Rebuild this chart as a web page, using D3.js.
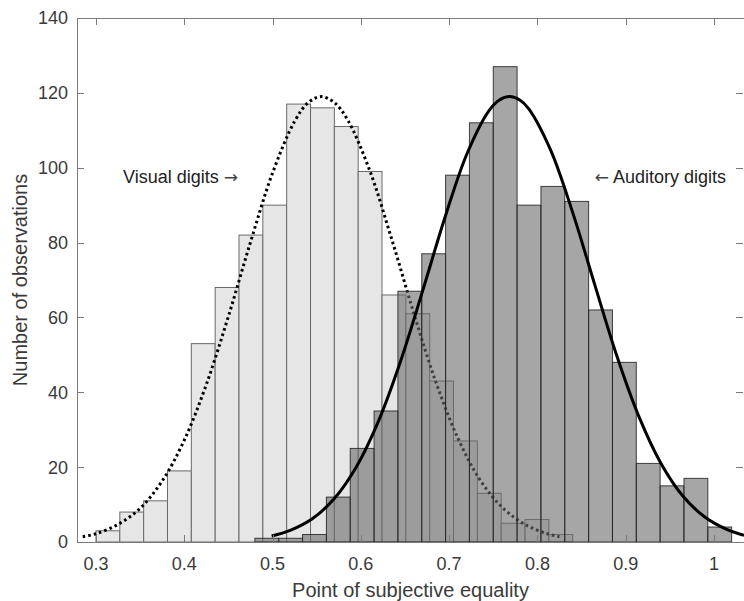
<!DOCTYPE html>
<html>
<head>
<meta charset="utf-8">
<script src="https://cdn.jsdelivr.net/npm/d3@7"></script>
<style>
  html, body { margin: 0; padding: 0; background: #fff; }
  svg { display: block; }
  text { font-family: "Liberation Sans", Arial, Helvetica, sans-serif; }
</style>
</head>
<body>
<svg id="chart" width="744" height="601"></svg>
<script>
// ---- data ----
const visualEdges = [0.300, 0.327, 0.354, 0.381, 0.408, 0.435, 0.462, 0.489, 0.516, 0.543, 0.570,
                     0.597, 0.624, 0.651, 0.678, 0.705, 0.732, 0.759, 0.786, 0.813, 0.840];
const visualCounts = [3, 8, 11, 19, 53, 68, 82, 90, 117, 116, 111, 99, 66, 61, 43, 27, 13, 5, 6, 2];

const auditoryEdges = [0.480, 0.507, 0.534, 0.561, 0.588, 0.615, 0.642, 0.669, 0.696, 0.723, 0.750,
                       0.777, 0.804, 0.831, 0.858, 0.885, 0.912, 0.939, 0.966, 0.993, 1.020];
const auditoryCounts = [1, 1, 2, 12, 25, 35, 67, 77, 98, 112, 127, 90, 95, 91, 62, 48, 21, 15, 17, 4];

// fitted curves
const visualFitX = [0.285, 0.300, 0.325, 0.350, 0.375, 0.400, 0.425, 0.450, 0.475, 0.500, 0.525, 0.540,
                    0.555, 0.570, 0.585, 0.610, 0.635, 0.660, 0.685, 0.710, 0.735, 0.760, 0.785, 0.810, 0.825];
const visualFitY = [1.4, 2.2, 4.7, 9.0, 16.3, 27.2, 42.1, 60.3, 80.1, 98.6, 112.4, 117.3,
                    119.0, 117.4, 112.8, 99.3, 80.9, 61.1, 42.7, 27.7, 16.6, 9.3, 4.8, 2.3, 1.4];

const auditoryFitX = [0.499, 0.520, 0.545, 0.570, 0.595, 0.620, 0.645, 0.670, 0.695, 0.720, 0.745, 0.757,
                      0.7685, 0.780, 0.790, 0.815, 0.840, 0.865, 0.890, 0.915, 0.940, 0.965, 0.990, 1.015, 1.034];
const auditoryFitY = [1.6, 3.1, 6.2, 11.6, 20.1, 32.3, 48.3, 67.1, 86.5, 103.6, 115.2, 118.1,
                      119.0, 118.1, 115.8, 104.7, 88.0, 68.7, 49.7, 33.5, 21.0, 12.2, 6.6, 3.3, 1.8];

const xTicks = [0.3, 0.4, 0.5, 0.6, 0.7, 0.8, 0.9, 1.0];
const xTickLabels = ["0.3", "0.4", "0.5", "0.6", "0.7", "0.8", "0.9", "1"];
const yTicks = [0, 20, 40, 60, 80, 100, 120, 140];

const xLabel = "Point of subjective equality";
const yLabel = "Number of observations";
const visualNote = "Visual digits";
const auditoryNote = "Auditory digits";
const rightArrow = "\u2192";
const leftArrow = "\u2190";

// ---- layout ----
const L = 77, R = 744, T = 18, B = 542;
const svg = d3.select("#chart");

const x = d3.scaleLinear().domain([0.2785, 1.034]).range([L, R]);
const y = d3.scaleLinear().domain([0, 140]).range([B, T]);

const axisColor = "#7a7a7a";
const textColor = "#3a3a3a";

// clip to plot area
svg.append("defs").append("clipPath").attr("id", "plotclip")
  .append("rect").attr("x", L).attr("y", T - 2).attr("width", R - L).attr("height", B - T + 2);

const plot = svg.append("g").attr("clip-path", "url(#plotclip)");

function binData(edges, counts) {
  return counts.map((c, i) => ({ x0: edges[i], x1: edges[i + 1], n: c }));
}

// visual histogram (light)
plot.append("g").selectAll("rect")
  .data(binData(visualEdges, visualCounts))
  .join("rect")
  .attr("x", d => x(d.x0))
  .attr("y", d => y(d.n))
  .attr("width", d => x(d.x1) - x(d.x0))
  .attr("height", d => y(0) - y(d.n))
  .attr("fill", "#e6e6e6")
  .attr("stroke", "#6a6a6a")
  .attr("stroke-width", 1);

const line = d3.line().x(d => x(d[0])).y(d => y(d[1])).curve(d3.curveCatmullRom.alpha(0.5));

// visual fit (dotted)
plot.append("path")
  .datum(visualFitX.map((v, i) => [v, visualFitY[i]]))
  .attr("d", line)
  .attr("fill", "none")
  .attr("stroke", "#000")
  .attr("stroke-width", 3)
  .attr("stroke-dasharray", "2.6,3");

// auditory histogram (dark, semi-transparent)
plot.append("g").selectAll("rect")
  .data(binData(auditoryEdges, auditoryCounts))
  .join("rect")
  .attr("x", d => x(d.x0))
  .attr("y", d => y(d.n))
  .attr("width", d => x(d.x1) - x(d.x0))
  .attr("height", d => y(0) - y(d.n))
  .attr("fill", "#6b6b6b")
  .attr("fill-opacity", 0.6)
  .attr("stroke", "#222")
  .attr("stroke-opacity", 0.85)
  .attr("stroke-width", 1);

// auditory fit (solid)
plot.append("path")
  .datum(auditoryFitX.map((v, i) => [v, auditoryFitY[i]]))
  .attr("d", line)
  .attr("fill", "none")
  .attr("stroke", "#000")
  .attr("stroke-width", 3);

// ---- axes ----
const tickLen = 7;
const axes = svg.append("g").attr("stroke", axisColor).attr("stroke-width", 1).attr("fill", "none");
axes.append("rect").attr("x", L + 0.5).attr("y", T + 0.5).attr("width", R - L).attr("height", B - T);

xTicks.forEach(t => {
  const px = Math.round(x(t)) + 0.5;
  axes.append("line").attr("x1", px).attr("x2", px).attr("y1", B).attr("y2", B - tickLen);
  axes.append("line").attr("x1", px).attr("x2", px).attr("y1", T).attr("y2", T + tickLen);
});
yTicks.forEach(t => {
  const py = Math.round(y(t)) + 0.5;
  axes.append("line").attr("x1", L).attr("x2", L + tickLen).attr("y1", py).attr("y2", py);
  axes.append("line").attr("x1", R - 1).attr("x2", R - 1 - tickLen).attr("y1", py).attr("y2", py);
});

// tick labels
svg.append("g").selectAll("text")
  .data(xTicks)
  .join("text")
  .attr("x", d => x(d))
  .attr("y", 569.5)
  .attr("text-anchor", "middle")
  .attr("font-size", 18)
  .attr("fill", textColor)
  .text((d, i) => xTickLabels[i]);

svg.append("g").selectAll("text")
  .data(yTicks)
  .join("text")
  .attr("x", 68)
  .attr("y", d => y(d))
  .attr("dy", "0.36em")
  .attr("text-anchor", "end")
  .attr("font-size", 18)
  .attr("fill", textColor)
  .text(d => d);

// axis labels
svg.append("text")
  .attr("x", (L + R) / 2)
  .attr("y", 597)
  .attr("text-anchor", "middle")
  .attr("font-size", 20)
  .attr("fill", textColor)
  .text(xLabel);

svg.append("text")
  .attr("transform", `translate(27,${(T + B) / 2}) rotate(-90)`)
  .attr("text-anchor", "middle")
  .attr("font-size", 20)
  .attr("fill", textColor)
  .text(yLabel);

// annotations
const vn = svg.append("text")
  .attr("x", 123)
  .attr("y", 183)
  .attr("font-size", 18)
  .attr("fill", "#222");
vn.append("tspan").text(visualNote + " ");
vn.append("tspan").attr("font-family", "DejaVu Sans").attr("font-size", 17).attr("fill", "#444").text(rightArrow);

const an = svg.append("text")
  .attr("x", 726)
  .attr("y", 183)
  .attr("text-anchor", "end")
  .attr("font-size", 18)
  .attr("fill", "#222");
an.append("tspan").attr("font-family", "DejaVu Sans").attr("font-size", 17).attr("fill", "#444").text(leftArrow);
an.append("tspan").text(" " + auditoryNote);
</script>
</body>
</html>
